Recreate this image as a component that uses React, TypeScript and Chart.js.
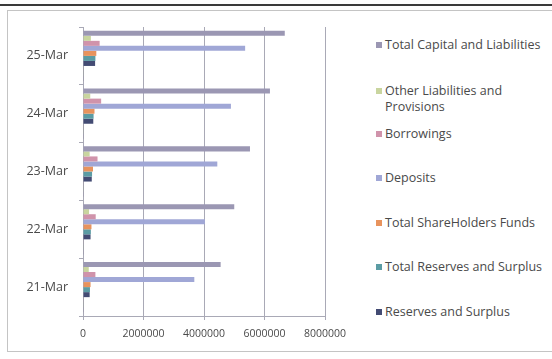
import React, { useEffect, useRef } from 'react';
import { Chart, registerables } from 'chart.js';

Chart.register(...registerables);

// Categories top-to-bottom as drawn
const categories = ['25-Mar', '24-Mar', '23-Mar', '22-Mar', '21-Mar'];

const totalCapitalAndLiabilities = [6670000, 6180000, 5520000, 5000000, 4550000];
const otherLiabilitiesAndProvisions = [260000, 240000, 220000, 200000, 190000];
const borrowings = [550000, 600000, 480000, 420000, 410000];
const deposits = [5360000, 4890000, 4440000, 4030000, 3680000];
const totalShareHoldersFunds = [440000, 380000, 330000, 280000, 250000];
const totalReservesAndSurplus = [410000, 350000, 300000, 260000, 230000];
const reservesAndSurplus = [400000, 340000, 290000, 250000, 220000];
const shareCapital = [12000, 12000, 12000, 12000, 12000];
const equityShareCapital = [12000, 12000, 12000, 12000, 12000];
const capital = [12000, 12000, 12000, 12000, 12000];

const xTicks = [0, 2000000, 4000000, 6000000, 8000000];

const seriesNames = [
  'Total Capital and Liabilities',
  'Other Liabilities and Provisions',
  'Borrowings',
  'Deposits',
  'Total ShareHolders Funds',
  'Total Reserves and Surplus',
  'Reserves and Surplus',
  'Share Capital',
  'Equity Share Capital',
  'Capital',
];
const seriesValues = [
  totalCapitalAndLiabilities,
  otherLiabilitiesAndProvisions,
  borrowings,
  deposits,
  totalShareHoldersFunds,
  totalReservesAndSurplus,
  reservesAndSurplus,
  shareCapital,
  equityShareCapital,
  capital,
];
const seriesColors = [
  '#9b97b3',
  '#c9d59f',
  '#d093ab',
  '#a0a7d6',
  '#e8935d',
  '#5b9ca4',
  '#434b73',
  '#8a7070',
  '#708a60',
  '#6a6080',
];
const legendCount = 7;
const legendTops = [37, 83, 126, 170, 215, 259, 304];

const FONT = '"Open Sans", "DejaVu Sans", sans-serif';
const TEXT = '#4a4a4a';
const GRID = '#a9a9b6';

export default function App() {
  const ref = useRef<HTMLCanvasElement | null>(null);

  useEffect(() => {
    if (!ref.current) return;
    const chart = new Chart(ref.current, {
      type: 'bar',
      data: {
        labels: categories,
        datasets: seriesNames.map((name, i) => ({
          label: name,
          data: seriesValues[i],
          backgroundColor: seriesColors[i],
          borderWidth: 0,
          categoryPercentage: 10 / 11.5,
          barPercentage: 1,
        })),
      },
      options: {
        indexAxis: 'y',
        animation: false,
        responsive: false,
        maintainAspectRatio: false,
        layout: { padding: { top: 27, right: 35, bottom: 0, left: 0 } },
        plugins: {
          legend: { display: false },
          tooltip: { enabled: false },
        },
        scales: {
          x: {
            min: 0,
            max: 8000000,
            afterBuildTicks: (s: any) => {
              s.ticks = xTicks.map((v) => ({ value: v }));
            },
            afterFit: (s: any) => {
              s.height = 43;
            },
            grid: {
              color: GRID,
              lineWidth: 1,
              drawTicks: true,
              tickLength: 4,
            },
            border: { display: true, color: GRID },
            ticks: {
              padding: 8,
              color: TEXT,
              font: { family: FONT, size: 10.5 },
              callback: (v: any) => String(v),
            },
          },
          y: {
            afterFit: (s: any) => {
              s.width = 83;
            },
            grid: {
              display: true,
              drawOnChartArea: false,
              color: GRID,
              tickLength: 4,
            },
            border: { display: true, color: GRID },
            ticks: {
              padding: 11,
              color: TEXT,
              font: { family: FONT, size: 12.5 },
            },
          },
        },
      },
    });
    return () => chart.destroy();
  }, []);

  return (
    <div style={{ position: 'absolute', left: 0, top: 0, width: 552, height: 359, background: '#fff', overflow: 'hidden' }}>
      <div style={{ position: 'absolute', left: 0, top: 4, width: 552, height: 2, background: '#3a3a3a' }} />
      <div
        style={{
          position: 'absolute',
          left: 7,
          top: 10,
          width: 560,
          height: 342,
          border: '1px solid #c4c4c4',
          boxSizing: 'border-box',
        }}
      />
      <canvas ref={ref} width={360} height={359} style={{ position: 'absolute', left: 0, top: 0, width: 360, height: 359 }} />
      {seriesNames.slice(0, legendCount).map((name, i) => (
        <div
          key={name}
          style={{
            position: 'absolute',
            left: 376,
            top: legendTops[i],
            width: 176,
            fontFamily: FONT,
            fontSize: 12.5,
            lineHeight: '16px',
            color: TEXT,
            display: 'flex',
            alignItems: 'flex-start',
          }}
        >
          <span
            style={{
              display: 'inline-block',
              width: 6,
              height: 6,
              marginTop: 5,
              marginRight: 3,
              flex: '0 0 auto',
              background: seriesColors[i],
            }}
          />
          <span style={{ maxWidth: i === 1 ? 140 : 170, whiteSpace: i === 1 ? 'normal' : 'nowrap' }}>{name}</span>
        </div>
      ))}
    </div>
  );
}
